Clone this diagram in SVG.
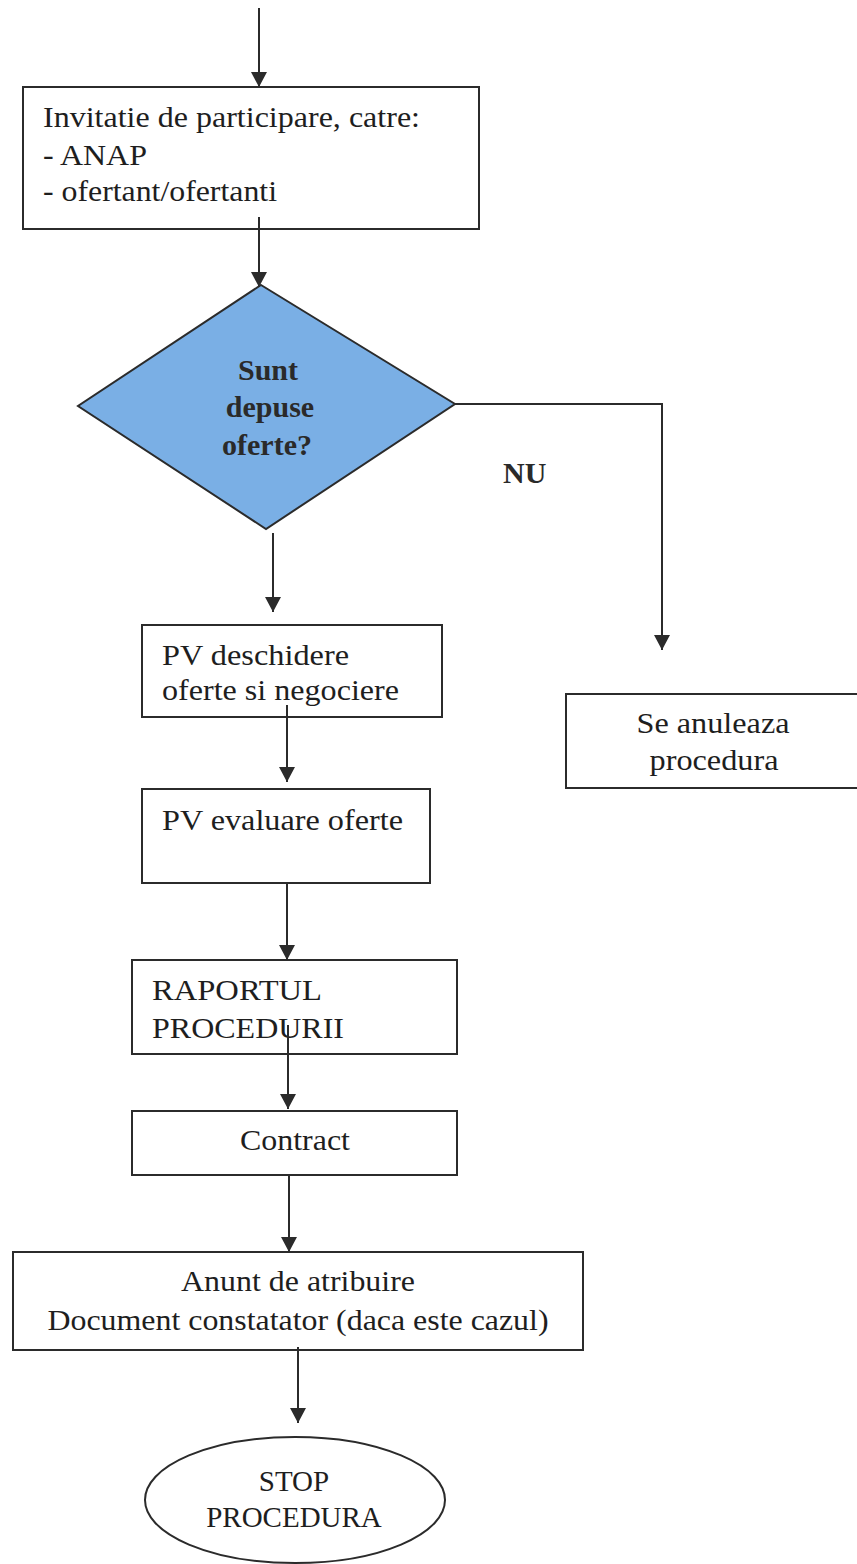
<svg xmlns="http://www.w3.org/2000/svg" width="857" height="1564" viewBox="0 0 857 1564">
<style>
.box{fill:#fff;stroke:#2b2b2b;stroke-width:2}
.dia{fill:#7aafe5;stroke:#2b2b2b;stroke-width:2}
.t{font-family:"Liberation Serif","Times New Roman",serif;font-size:30px;fill:#1e1e1e}
.tb{font-family:"Liberation Serif","Times New Roman",serif;font-size:30px;font-weight:bold;fill:#2a2a2a}
.ts{font-family:"Liberation Serif","Times New Roman",serif;font-size:29px;fill:#1e1e1e}
.c{fill:none;stroke:#2b2b2b;stroke-width:2}
</style>
<defs>
<marker id="ah" markerUnits="userSpaceOnUse" markerWidth="16" markerHeight="16" refX="15" refY="8" orient="auto">
<path d="M0,0 L15,8 L0,16 z" fill="#2b2b2b"/>
</marker>
</defs>
<rect width="857" height="1564" fill="#fff"/>
<g id="n-invitatie">
<rect class="box" x="23" y="87" width="456" height="142"/>
<text class="t" x="43" y="127" textLength="377" lengthAdjust="spacingAndGlyphs">Invitatie de participare, catre:</text>
<text class="t" x="43" y="165" textLength="104" lengthAdjust="spacingAndGlyphs">- ANAP</text>
<text class="t" x="43" y="201" textLength="234" lengthAdjust="spacingAndGlyphs">- ofertant/ofertanti</text>
</g>
<g id="n-decizie">
<polygon class="dia" points="261,285 455,404 266,529 78,406"/>
<text class="tb" x="268" y="380" text-anchor="middle">Sunt</text>
<text class="tb" x="270" y="417" text-anchor="middle">depuse</text>
<text class="tb" x="267" y="455" text-anchor="middle">oferte?</text>
</g>
<g id="n-nu">
<text class="tb" x="503" y="483">NU</text>
</g>
<g id="n-deschidere">
<rect class="box" x="142" y="625" width="300" height="92"/>
<text class="t" x="162" y="665" textLength="187" lengthAdjust="spacingAndGlyphs">PV deschidere</text>
<text class="t" x="162" y="700" textLength="237" lengthAdjust="spacingAndGlyphs">oferte si negociere</text>
</g>
<g id="n-anuleaza">
<rect class="box" x="566" y="694" width="300" height="94"/>
<text class="t" x="713" y="733" text-anchor="middle" textLength="153" lengthAdjust="spacingAndGlyphs">Se anuleaza</text>
<text class="t" x="714" y="770" text-anchor="middle" textLength="129" lengthAdjust="spacingAndGlyphs">procedura</text>
</g>
<g id="n-evaluare">
<rect class="box" x="142" y="789" width="288" height="94"/>
<text class="t" x="162" y="830" textLength="241" lengthAdjust="spacingAndGlyphs">PV evaluare oferte</text>
</g>
<g id="n-raport">
<rect class="box" x="132" y="960" width="325" height="94"/>
<text class="t" x="152" y="1000" textLength="170" lengthAdjust="spacingAndGlyphs">RAPORTUL</text>
<text class="t" x="152" y="1038" textLength="192" lengthAdjust="spacingAndGlyphs">PROCEDURII</text>
</g>
<g id="n-contract">
<rect class="box" x="132" y="1111" width="325" height="64"/>
<text class="t" x="295" y="1150" text-anchor="middle" textLength="110" lengthAdjust="spacingAndGlyphs">Contract</text>
</g>
<g id="n-anunt">
<rect class="box" x="13" y="1252" width="570" height="98"/>
<text class="t" x="298" y="1291" text-anchor="middle" textLength="234" lengthAdjust="spacingAndGlyphs">Anunt de atribuire</text>
<text class="t" x="298" y="1330" text-anchor="middle" textLength="501" lengthAdjust="spacingAndGlyphs">Document constatator (daca este cazul)</text>
</g>
<g id="n-stop">
<ellipse class="box" cx="295" cy="1500" rx="150" ry="63"/>
<text class="ts" x="294" y="1491" text-anchor="middle">STOP</text>
<text class="ts" x="294" y="1527" text-anchor="middle">PROCEDURA</text>
</g>
<g id="connectors">
<path class="c" d="M259,8 L259,87" marker-end="url(#ah)"/>
<path class="c" d="M259,217 L259,287" marker-end="url(#ah)"/>
<path class="c" d="M455,404 L662,404 L662,650" marker-end="url(#ah)"/>
<path class="c" d="M273,533 L273,612" marker-end="url(#ah)"/>
<path class="c" d="M287,705 L287,782" marker-end="url(#ah)"/>
<path class="c" d="M287,883 L287,960" marker-end="url(#ah)"/>
<path class="c" d="M288,1025 L288,1109" marker-end="url(#ah)"/>
<path class="c" d="M289,1175 L289,1252" marker-end="url(#ah)"/>
<path class="c" d="M298,1347 L298,1423" marker-end="url(#ah)"/>
</g>
</svg>
